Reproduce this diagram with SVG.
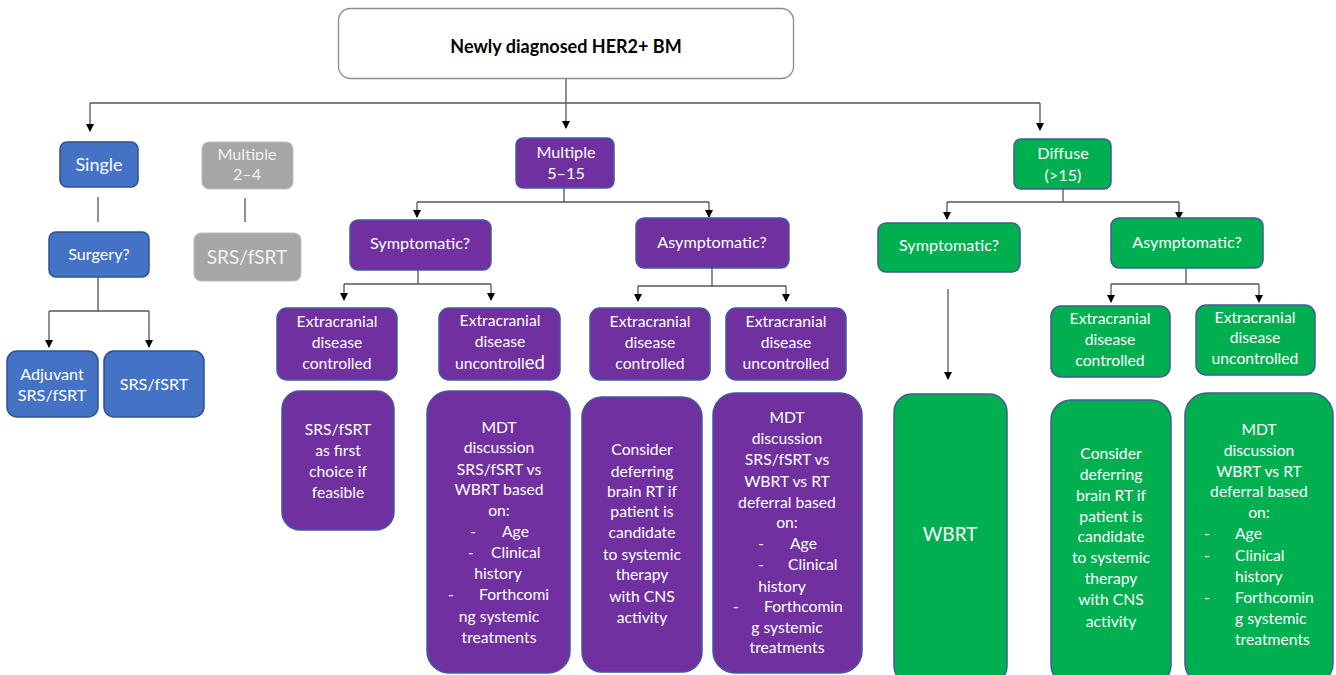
<svg xmlns="http://www.w3.org/2000/svg" width="1336" height="675" viewBox="0 0 1336 675">
<defs>
<marker id="arr" markerWidth="8" markerHeight="8" refX="7" refY="4" orient="auto" markerUnits="userSpaceOnUse">
<path d="M0,0 L8,4 L0,8 Z" fill="#000"/>
</marker>
<clipPath id="clipMult"><rect x="195" y="140" width="110" height="20"/></clipPath>
</defs>
<style>
text{font-family:Lato,"Open Sans","Liberation Sans",sans-serif;text-anchor:middle;fill:#fff;font-size:15.7px}
.h1{font-size:16.2px}
.blue{fill:#4472C4;stroke:#2F528F;stroke-width:1.5}
.purple{fill:#7030A0;stroke:#3F5A9C;stroke-width:1.5}
.green{fill:#00B050;stroke:#3F5A9C;stroke-width:1.5}
.grey{fill:#A6A6A6;stroke:#BDBDBD;stroke-width:1}
.ln{fill:none;stroke:#555;stroke-width:1.3}
.ar{fill:none;stroke:#555;stroke-width:1.3;marker-end:url(#arr)}
.lt{text-anchor:start}
</style>
<rect width="1336" height="675" fill="#fff"/>

<g id="connectors">
<path class="ln" d="M566,78 V103 M90,103 H1040"/>
<path class="ar" d="M90,103 V131"/>
<path class="ar" d="M566,103 V128"/>
<path class="ar" d="M1040,103 V130"/>
<path class="ln" d="M98,197 V222"/>
<path class="ln" d="M98,277 V311 M49,311 H149"/>
<path class="ar" d="M49,311 V347"/>
<path class="ar" d="M149,311 V347"/>
<path class="ln" d="M245,198 V222"/>
<path class="ln" d="M564,188 V202 M417,202 H709"/>
<path class="ar" d="M417,202 V217"/>
<path class="ar" d="M709,202 V217"/>
<path class="ln" d="M418,270 V284 M344,284 H491"/>
<path class="ar" d="M344,284 V300"/>
<path class="ar" d="M491,284 V300"/>
<path class="ln" d="M712,268 V286 M638,286 H786"/>
<path class="ar" d="M638,286 V301"/>
<path class="ar" d="M786,286 V301"/>
<path class="ln" d="M1063,189 V202 M947,202 H1179"/>
<path class="ar" d="M947,202 V219"/>
<path class="ar" d="M1179,202 V219"/>
<path class="ar" d="M948,289 V379"/>
<path class="ln" d="M1186,268 V284 M1111,284 H1259"/>
<path class="ar" d="M1111,284 V302"/>
<path class="ar" d="M1259,284 V302"/>
</g>

<g id="root">
<rect x="338.5" y="8.5" width="455" height="70" rx="12" fill="#fff" stroke="#8C8C8C" stroke-width="1.3"/>
<text x="566" y="53" style="fill:#000;font-weight:bold;font-size:18px">Newly diagnosed HER2+ BM</text>
</g>

<g id="single">
<rect class="blue" x="60" y="142" width="78" height="45" rx="7"/>
<text x="99" y="171" style="font-size:18px">Single</text>
</g>
<g id="surgery">
<rect class="blue" x="49" y="232" width="100" height="45" rx="7"/>
<text x="99" y="260" class="h1">Surgery?</text>
</g>
<g id="adjuvant">
<rect class="blue" x="7" y="351" width="91" height="66" rx="10"/>
<text x="52" y="380" class="h1">Adjuvant</text>
<text x="52" y="401" class="h1">SRS/fSRT</text>
</g>
<g id="srs-single">
<rect class="blue" x="104" y="351" width="100" height="66" rx="10"/>
<text x="154" y="390" class="h1">SRS/fSRT</text>
</g>

<g id="multiple24">
<rect class="grey" x="202" y="142" width="91" height="47" rx="7"/>
<text x="247" y="160" clip-path="url(#clipMult)" class="h1" style="fill:#F2F2F2">Multiple</text>
<text x="247" y="180" class="h1" style="fill:#F2F2F2">2–4</text>
</g>
<g id="srs-grey">
<rect class="grey" x="194" y="233" width="107" height="48" rx="7"/>
<text x="247" y="264" style="fill:#F2F2F2;font-size:19px">SRS/fSRT</text>
</g>

<g id="multiple515">
<rect class="purple" x="516" y="138" width="98" height="50" rx="7"/>
<text x="566" y="158" class="h1">Multiple</text>
<text x="566" y="179" class="h1">5–15</text>
</g>
<g id="sym-p">
<rect class="purple" x="350" y="220" width="141" height="50" rx="8"/>
<text x="420" y="249" class="h1">Symptomatic?</text>
</g>
<g id="asym-p">
<rect class="purple" x="636" y="218" width="153" height="50" rx="8"/>
<text x="712" y="248" class="h1">Asymptomatic?</text>
</g>
<g id="ecc-p1">
<rect class="purple" x="277" y="308" width="120" height="72" rx="10"/>
<text x="337" y="327">Extracranial</text>
<text x="337" y="348">disease</text>
<text x="337" y="369">controlled</text>
</g>
<g id="ecu-p1">
<rect class="purple" x="439" y="308" width="121" height="72" rx="10"/>
<text x="500" y="326">Extracranial</text>
<text x="500" y="347">disease</text>
<text x="500" y="369">uncontroll<tspan style="font-size:18.5px">ed</tspan></text>
</g>
<g id="ecc-p2">
<rect class="purple" x="590" y="308" width="120" height="72" rx="10"/>
<text x="650" y="327">Extracranial</text>
<text x="650" y="348">disease</text>
<text x="650" y="369">controlled</text>
</g>
<g id="ecu-p2">
<rect class="purple" x="726" y="308" width="120" height="72" rx="10"/>
<text x="786" y="327">Extracranial</text>
<text x="786" y="348">disease</text>
<text x="786" y="369">uncontrolled</text>
</g>

<g id="srs-first">
<rect class="purple" x="282" y="391" width="112" height="139" rx="18"/>
<text x="338" y="435">SRS/fSRT</text>
<text x="338" y="456">as first</text>
<text x="338" y="477">choice if</text>
<text x="338" y="498">feasible</text>
</g>
<g id="mdt-p1">
<rect class="purple" x="427" y="391" width="143" height="282" rx="22"/>
<text x="499" y="433">MDT</text>
<text x="499" y="453">discussion</text>
<text x="499" y="475">SRS/fSRT vs</text>
<text x="499" y="495">WBRT based</text>
<text x="499" y="516">on:</text>
<text class="lt" x="470" y="537">-</text><text class="lt" x="502" y="537">Age</text>
<text class="lt" x="468" y="558">-</text><text class="lt" x="491" y="558">Clinical</text>
<text x="498" y="579">history</text>
<text class="lt" x="448" y="600">-</text><text class="lt" x="479" y="600">Forthcomi</text>
<text x="499" y="622">ng systemic</text>
<text x="499" y="643">treatments</text>
</g>
<g id="consider-p">
<rect class="purple" x="582" y="397" width="120" height="275" rx="20"/>
<text x="642" y="455">Consider</text>
<text x="642" y="477">deferring</text>
<text x="642" y="497">brain RT if</text>
<text x="642" y="517">patient is</text>
<text x="642" y="538">candidate</text>
<text x="642" y="560">to systemic</text>
<text x="642" y="580">therapy</text>
<text x="642" y="602">with CNS</text>
<text x="642" y="623">activity</text>
</g>
<g id="mdt-p2">
<rect class="purple" x="713" y="393" width="149" height="280" rx="22"/>
<text x="787" y="423">MDT</text>
<text x="787" y="444">discussion</text>
<text x="787" y="465">SRS/fSRT vs</text>
<text x="787" y="487">WBRT vs RT</text>
<text x="787" y="508">deferral based</text>
<text x="787" y="528">on:</text>
<text class="lt" x="758" y="549">-</text><text class="lt" x="790" y="549">Age</text>
<text class="lt" x="758" y="570">-</text><text class="lt" x="788" y="570">Clinical</text>
<text x="782" y="592">history</text>
<text class="lt" x="733" y="612">-</text><text class="lt" x="764" y="612">Forthcomin</text>
<text x="787" y="633">g systemic</text>
<text x="787" y="653">treatments</text>
</g>

<g id="diffuse">
<rect class="green" x="1014" y="139" width="97" height="50" rx="7"/>
<text x="1063" y="159" class="h1">Diffuse</text>
<text x="1063" y="181" class="h1">(&gt;15)</text>
</g>
<g id="sym-g">
<rect class="green" x="878" y="223" width="142" height="49" rx="8"/>
<text x="949" y="251" class="h1">Symptomatic?</text>
</g>
<g id="asym-g">
<rect class="green" x="1111" y="218" width="152" height="50" rx="8"/>
<text x="1187" y="248" class="h1">Asymptomatic?</text>
</g>
<g id="ecc-g">
<rect class="green" x="1051" y="306" width="119" height="71" rx="10"/>
<text x="1110" y="324">Extracranial</text>
<text x="1110" y="345">disease</text>
<text x="1110" y="366">controlled</text>
</g>
<g id="ecu-g">
<rect class="green" x="1196" y="305" width="119" height="70" rx="10"/>
<text x="1255" y="323">Extracranial</text>
<text x="1255" y="343">disease</text>
<text x="1255" y="364">uncontrolled</text>
</g>
<g id="wbrt">
<rect class="green" x="894" y="394" width="113" height="290" rx="18"/>
<text x="950" y="541" style="font-size:19px">WBRT</text>
</g>
<g id="consider-g">
<rect class="green" x="1051" y="400" width="120" height="285" rx="20"/>
<text x="1111" y="459">Consider</text>
<text x="1111" y="480">deferring</text>
<text x="1111" y="501">brain RT if</text>
<text x="1111" y="522">patient is</text>
<text x="1111" y="542">candidate</text>
<text x="1111" y="563">to systemic</text>
<text x="1111" y="584">therapy</text>
<text x="1111" y="605">with CNS</text>
<text x="1111" y="627">activity</text>
</g>
<g id="mdt-g">
<rect class="green" x="1185" y="393" width="148" height="292" rx="22"/>
<text x="1259" y="435">MDT</text>
<text x="1259" y="456">discussion</text>
<text x="1259" y="477">WBRT vs RT</text>
<text x="1259" y="497">deferral based</text>
<text x="1259" y="518">on:</text>
<text class="lt" x="1204" y="539">-</text><text class="lt" x="1235" y="539">Age</text>
<text class="lt" x="1204" y="561">-</text><text class="lt" x="1235" y="561">Clinical</text>
<text class="lt" x="1235" y="582">history</text>
<text class="lt" x="1204" y="603">-</text><text class="lt" x="1235" y="603">Forthcomin</text>
<text class="lt" x="1235" y="624">g systemic</text>
<text class="lt" x="1235" y="645">treatments</text>
</g>
</svg>
